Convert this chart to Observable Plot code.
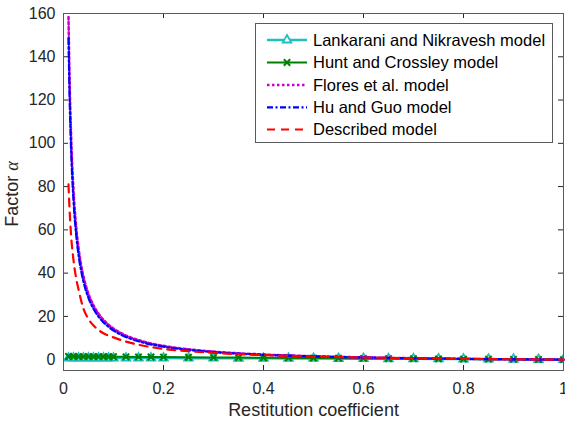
<!DOCTYPE html>
<html>
<head>
<meta charset="utf-8">
<script src="https://cdn.jsdelivr.net/npm/d3@7"></script>
<script src="https://cdn.jsdelivr.net/npm/@observablehq/plot@0.6"></script>
<style>
  html, body { margin: 0; padding: 0; background: #fff; }
  #chart { position: relative; width: 565px; height: 424px; }
</style>
</head>
<body>
<div id="chart"></div>
<script>
// ---- data ----
const markerE = [0.01,0.02,0.03,0.04,0.05,0.06,0.07,0.08,0.09,0.1,0.125,0.15,0.175,0.2,0.25,0.3,0.35,0.4,0.45,0.5,0.55,0.6,0.65,0.7,0.75,0.8,0.85,0.9,0.95,1.0];
const lankarani = [0.75,0.75,0.749,0.749,0.748,0.747,0.746,0.745,0.744,0.743,0.738,0.733,0.727,0.72,0.703,0.683,0.658,0.63,0.598,0.563,0.523,0.48,0.433,0.383,0.328,0.27,0.208,0.143,0.073,0];
const hunt = [1.485,1.47,1.455,1.44,1.425,1.41,1.395,1.38,1.365,1.35,1.31,1.275,1.24,1.2,1.125,1.05,0.975,0.9,0.825,0.75,0.675,0.6,0.525,0.45,0.375,0.3,0.225,0.15,0.075,0];

const curveE = [0.01,0.012,0.015,0.02,0.025,0.03,0.035,0.04,0.05,0.06,0.07,0.08,0.09,0.1,0.12,0.15,0.2,0.25,0.3,0.4,0.5,0.6,0.7,0.8,0.9,1.0];
const flores = [158.4,131.7,105.1,78.4,62.4,51.7,44.1,38.4,30.4,25.1,21.3,18.4,16.2,14.4,11.7,9.07,6.4,4.8,3.73,2.4,1.6,1.07,0.69,0.4,0.18,0];
const huGuo  = [148.5,123.5,98.5,73.5,58.5,48.5,41.4,36,28.5,23.5,19.9,17.25,15.2,13.5,11,8.5,6,4.5,3.5,2.25,1.5,1.0,0.64,0.38,0.17,0];

const describedE = [0.01,0.012,0.015,0.02,0.025,0.03,0.04,0.05,0.06,0.07,0.08,0.1,0.12,0.15,0.2,0.25,0.3,0.4,0.5,0.6,0.7,0.8,0.9,1.0];
const described  = [81,70,58,46,38,32.5,23.5,18.8,15.8,13.7,12.2,10.3,8.7,6.9,5.0,3.9,3.15,2.1,1.45,1.0,0.65,0.4,0.18,0];

const xTicks = [0,0.2,0.4,0.6,0.8,1];
const xTickLabels = ["0","0.2","0.4","0.6","0.8","1"];
const yTicks = [0,20,40,60,80,100,120,140,160];

const seriesNames = ["Lankarani and Nikravesh model","Hunt and Crossley model","Flores et al. model","Hu and Guo model","Described model"];
const seriesColors = ["#1fbfbf","#008000","#cc00cc","#0000ff","#ff0000"];
const xLabel = "Restitution coefficient";

// ---- tables built from arrays ----
const lankData = markerE.map((e,i)=>({e, a: lankarani[i]}));
const huntData = markerE.map((e,i)=>({e, a: hunt[i]}));
const floresData = curveE.map((e,i)=>({e, a: flores[i]}));
const huData = curveE.map((e,i)=>({e, a: huGuo[i]}));
const descData = describedE.map((e,i)=>({e, a: described[i]}));

const W = 565, H = 424, mL = 63, mR = 2, mT = 13, mB = 54;
const pw = W - mL - mR, ph = H - mT - mB;
const axisColor = "#262626";

const chart = Plot.plot({
  width: W, height: H,
  marginLeft: mL, marginRight: mR, marginTop: mT, marginBottom: mB,
  style: {fontFamily: "'Liberation Sans', Arial, sans-serif", fontSize: "16px", color: axisColor, background: "#fff", overflow: "visible"},
  x: {domain: [0, 1], label: null},
  y: {domain: [-5, 160], label: null},
  marks: [
    Plot.axisX(xTicks, {tickSize: 0, tickPadding: 12, tickFormat: (d,i)=>xTickLabels[i], fontSize: 16, fill: axisColor}),
    Plot.axisY(yTicks, {tickSize: 0, tickPadding: 8, fontSize: 16, fill: axisColor}),
    // inward ticks (MATLAB style)
    Plot.ruleX(xTicks, {x: d=>d, insetTop: ph - 5, stroke: axisColor}),
    Plot.ruleX(xTicks, {x: d=>d, insetBottom: ph - 5, stroke: axisColor}),
    Plot.ruleY(yTicks, {y: d=>d, insetRight: pw - 5, stroke: axisColor}),
    Plot.ruleY(yTicks, {y: d=>d, insetLeft: pw - 5, stroke: axisColor}),
    // series
    Plot.line(lankData, {x: "e", y: "a", stroke: seriesColors[0], strokeWidth: 2.5}),
    Plot.dot(lankData, {x: "e", y: "a", symbol: "triangle", r: 3.2, stroke: seriesColors[0], strokeWidth: 1.8, fill: "none", clip: true}),
    Plot.line(huntData, {x: "e", y: "a", stroke: seriesColors[1], strokeWidth: 2}),
    Plot.dot(huntData, {x: "e", y: "a", symbol: "times", r: 3, stroke: seriesColors[1], strokeWidth: 2, clip: true}),
    Plot.line(floresData, {x: "e", y: "a", stroke: seriesColors[2], strokeWidth: 2.5, strokeDasharray: "2.5,2.5", curve: "monotone-x"}),
    Plot.line(huData, {x: "e", y: "a", stroke: seriesColors[3], strokeWidth: 2.2, strokeDasharray: "6,2.5,2,2.5", curve: "monotone-x"}),
    Plot.line(descData, {x: "e", y: "a", stroke: seriesColors[4], strokeWidth: 2.2, strokeDasharray: "8,6", curve: "monotone-x"}),
    Plot.frame({stroke: "#5a5a5a", strokeWidth: 1}),
    Plot.text([xLabel], {frameAnchor: "bottom", dy: 40, text: d=>d, fontSize: 18, fill: axisColor, lineAnchor: "middle"})
  ]
});

document.getElementById("chart").appendChild(chart);

// y label with italic alpha
const svg = d3.select(chart);
const yl = svg.append("text")
  .attr("transform", "translate(18,194) rotate(-90)")
  .attr("text-anchor", "middle")
  .attr("fill", axisColor)
  .style("font-family", "'Liberation Sans', Arial, sans-serif")
  .style("font-size", "18px");
yl.append("tspan").text("Factor ");
yl.append("tspan").text("α").style("font-style", "italic").style("font-family", "'Liberation Serif', serif");

// legend
const lg = svg.append("g").attr("text-anchor", "start");
const lx = 255, ly = 23, lw = 297, lh = 119;
lg.append("rect").attr("x", lx + 0.5).attr("y", ly + 0.5).attr("width", lw).attr("height", lh)
  .attr("fill", "#fff").attr("stroke", "#5a5a5a").attr("stroke-width", 1);
const rowY = [40, 62.5, 85, 107.3, 129.5];
const dashes = [null, null, "2.5,2.5", "6,2.5,2,2.5", "8,6"];
const widths = [2.5, 2, 2.5, 2.2, 2.2];
seriesNames.forEach((name, i) => {
  const y = rowY[i];
  lg.append("line").attr("x1", 267).attr("x2", 307).attr("y1", y).attr("y2", y)
    .attr("stroke", seriesColors[i]).attr("stroke-width", widths[i])
    .attr("stroke-dasharray", dashes[i]);
  if (i === 0) {
    lg.append("path").attr("d", d3.symbol(d3.symbolTriangle, 32)()).attr("transform", `translate(287,${y})`)
      .attr("fill", "#fff").attr("stroke", seriesColors[0]).attr("stroke-width", 1.8);
  }
  if (i === 1) {
    lg.append("path").attr("d", d3.symbol(d3.symbolTimes, 28)()).attr("transform", `translate(287,${y})`)
      .attr("fill", "none").attr("stroke", seriesColors[1]).attr("stroke-width", 2);
  }
  lg.append("text").attr("x", 313).attr("y", y).attr("dy", "0.35em")
    .attr("text-anchor", "start")
    .attr("fill", "#000")
    .style("font-family", "'Liberation Sans', Arial, sans-serif")
    .style("font-size", "16.5px")
    .text(name);
});
</script>
</body>
</html>
